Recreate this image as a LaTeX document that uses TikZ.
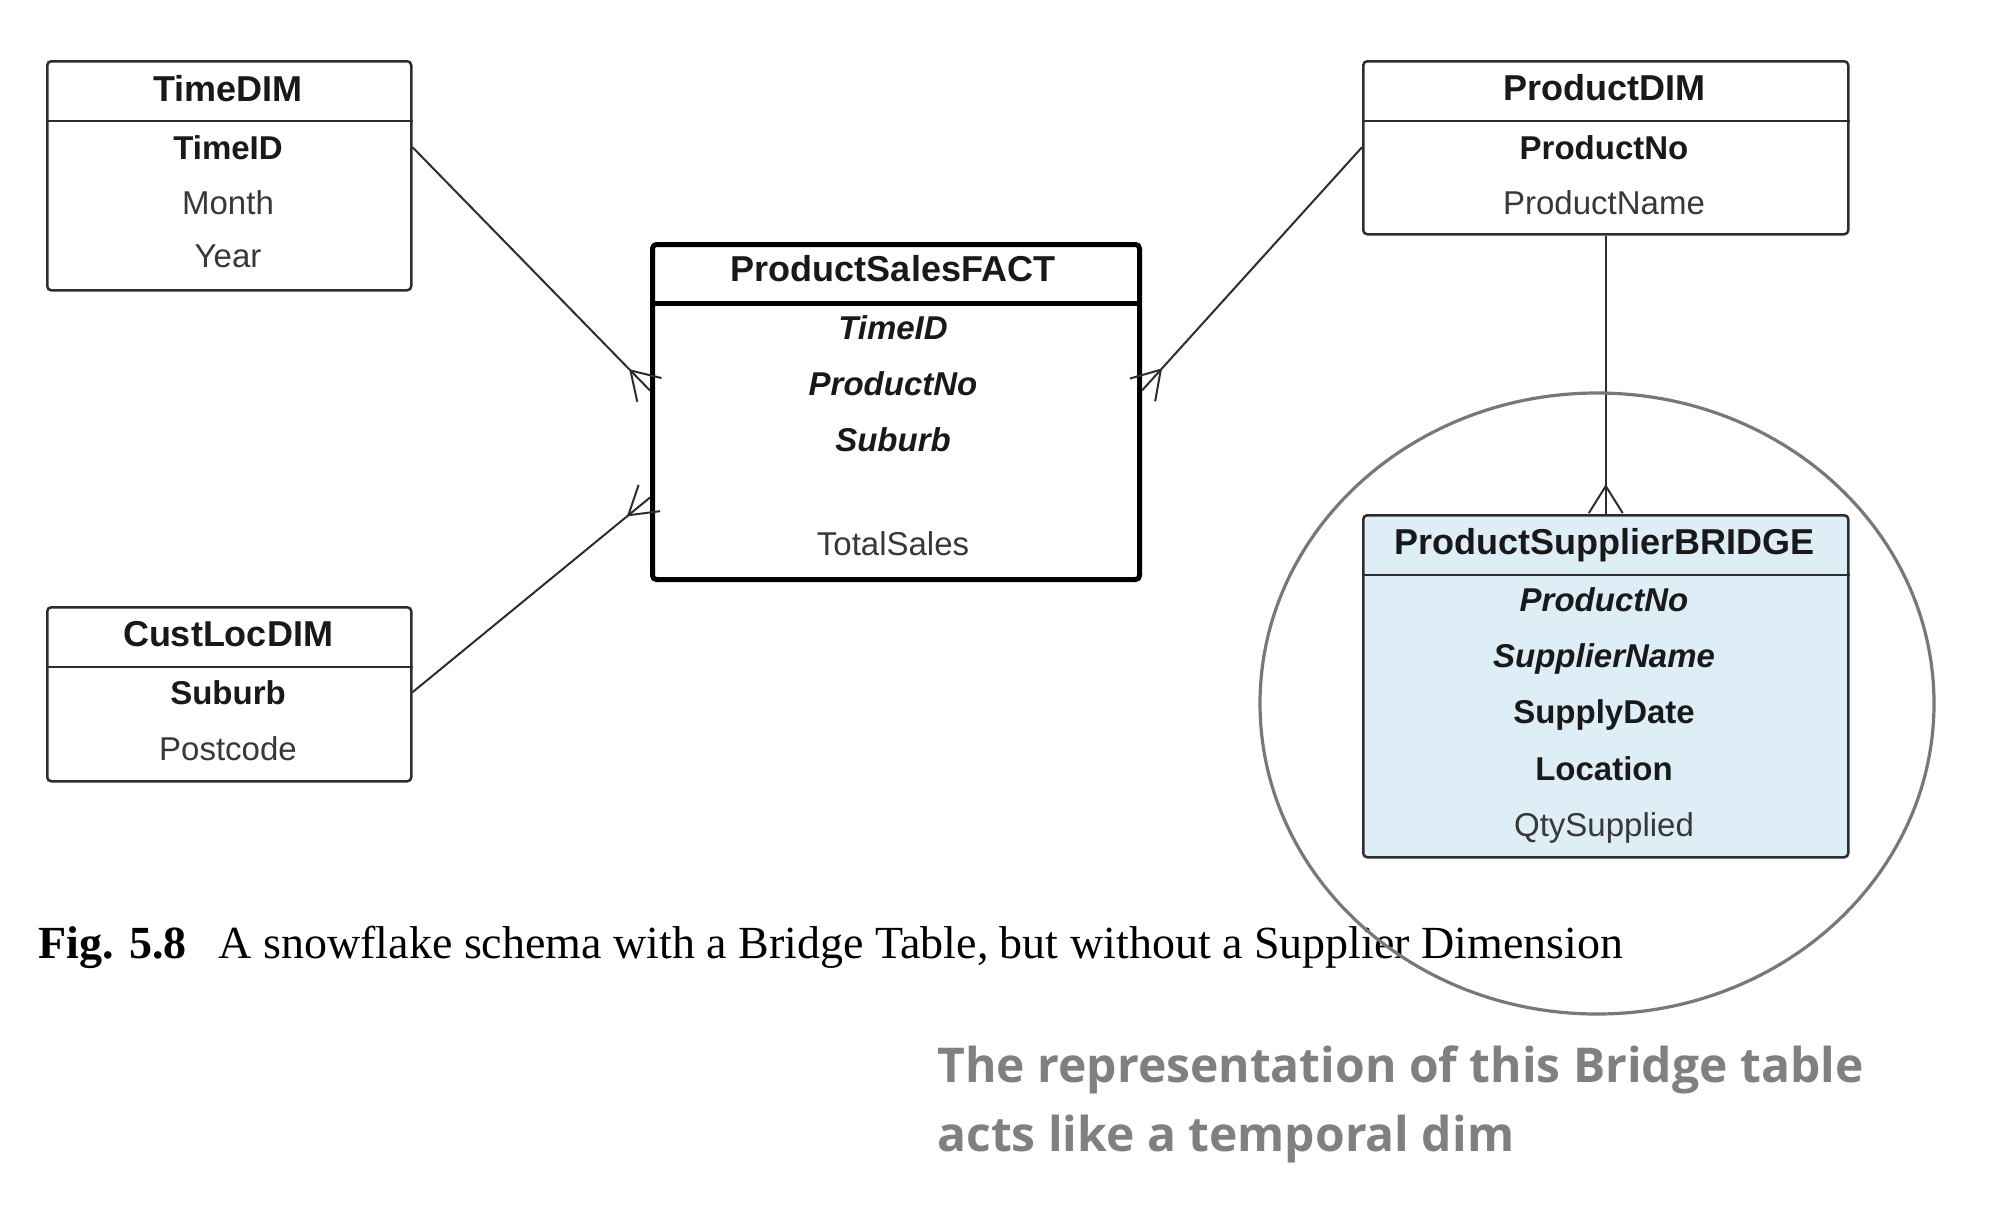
\documentclass[tikz,border=0pt]{standalone}
\usepackage{fontspec}
\setmainfont{Liberation Sans}
\newfontfamily\capfont{Liberation Serif}
\newfontfamily\notefont[Ligatures=NoCommon]{Open Sans}
\usetikzlibrary{calc}
\definecolor{bridgeblue}{RGB}{222,238,247}
\definecolor{linegray}{RGB}{45,45,45}
\definecolor{ringgray}{RGB}{120,120,120}
\definecolor{notegray}{RGB}{128,128,128}
\newcommand{\crowfoot}[2]{%
  \coordinate (cfapex) at ($(#2)!14pt!(#1)$);
  \draw[conn] (cfapex) -- ($(cfapex)!16pt!32:(#2)$);
  \draw[conn] (cfapex) -- ($(cfapex)!16pt!-32:(#2)$);
}
\begin{document}
\begin{tikzpicture}[x=0.5pt,y=-0.5pt,
  tbl/.style={draw=linegray, line width=1.25pt, rounded corners=2pt, anchor=north west, inner sep=0pt, fill=white},
  facttbl/.style={tbl, draw=black, line width=2.5pt},
  sepline/.style={draw=linegray, line width=1.25pt},
  ttl/.style={font=\fontsize{18}{20}\selectfont\bfseries, inner sep=0pt, anchor=base, text=black!90},
  row/.style={font=\fontsize{16.5}{19}\selectfont, inner sep=0pt, anchor=base, text=black!78},
  key/.style={row, font=\fontsize{16.5}{19}\selectfont\bfseries, text=black!90},
  fkey/.style={row, font=\fontsize{16.5}{19}\selectfont\bfseries\itshape, text=black!90},
  conn/.style={draw=linegray, line width=1pt},
  note/.style={anchor=base west, inner sep=0pt, text=notegray, font=\notefont\fontsize{24}{28}\selectfont\bfseries},
]
\useasboundingbox (0,0) rectangle (2000,1211);
\fill[white] (0,0) rectangle (2000,1211);

% TimeDIM
\node[tbl, minimum width=182pt, minimum height=114.5pt] (time) at (46,60) {};
\draw[sepline] (time.west |- 0,121) -- (time.east |- 0,121);
\node[ttl] (timeT) at (228,101) {TimeDIM};
\node[key] (timeid) at (228,159) {TimeID};
\node[row] (month) at (228,214) {Month};
\node[row] (year) at (228,267) {Year};

% ProductDIM
\node[tbl, minimum width=242.5pt, minimum height=86.5pt] (pdim) at (1362,60) {};
\draw[sepline] (pdim.west |- 0,121) -- (pdim.east |- 0,121);
\node[ttl] (pdimT) at (1604,100) {ProductDIM};
\node[key] (pno) at (1604,159) {ProductNo};
\node[row] (pname) at (1604,214) {ProductName};

% CustLocDIM
\node[tbl, minimum width=182pt, minimum height=87pt] (cust) at (46,606) {};
\draw[sepline] (cust.west |- 0,667) -- (cust.east |- 0,667);
\node[ttl] (custT) at (228,646) {CustLocDIM};
\node[key] (suburb) at (228,704) {Suburb};
\node[row] (postcode) at (228,760) {Postcode};

% ProductSalesFACT
\node[facttbl, minimum width=243.5pt, minimum height=167.5pt] (fact) at (650,242) {};
\draw[sepline, draw=black, line width=2.5pt] (fact.west |- 0,303) -- (fact.east |- 0,303);
\node[ttl] (factT) at (893,281) {ProductSalesFACT};
\node[fkey] (ftime) at (893,339) {TimeID};
\node[fkey] (fpno) at (893,395) {ProductNo};
\node[fkey] (fsub) at (893,451) {Suburb};
\node[row] (fsales) at (893,555) {TotalSales};

% ProductSupplierBRIDGE
\node[tbl, fill=bridgeblue, minimum width=242.5pt, minimum height=171pt] (bridge) at (1362,514) {};
\draw[sepline] (bridge.west |- 0,575) -- (bridge.east |- 0,575);
\node[ttl] (bridgeT) at (1604,554) {ProductSupplierBRIDGE};
\node[fkey] (bpno) at (1604,611.5) {ProductNo};
\node[fkey] (bsup) at (1604,667.5) {SupplierName};
\node[key] (bdate) at (1604,723.5) {SupplyDate};
\node[key] (bloc) at (1604,780) {Location};
\node[row] (bqty) at (1604,836) {QtySupplied};

% connectors
\coordinate (s1) at (time.east |- timeid);
\coordinate (e1) at ([yshift=10.75pt]fact.west);
\draw[conn] (s1) -- (e1);
\crowfoot{s1}{e1}

\coordinate (s2) at (cust.east |- suburb);
\coordinate (e2) at ([yshift=-42.75pt]fact.west);
\draw[conn] (s2) -- (e2);
\crowfoot{s2}{e2}

\coordinate (s3) at (pdim.west |- pno);
\coordinate (e3) at ([yshift=10.75pt]fact.east);
\draw[conn] (s3) -- (e3);
\crowfoot{s3}{e3}

\draw[conn] (pdim.south) -- (bridge.north);
\crowfoot{pdim.south}{bridge.north}

% caption
\node[anchor=base west, inner sep=0pt, font=\capfont\fontsize{23}{26}\selectfont] (caption) at (38,958)
  {\textbf{Fig. 5.8}\hspace{0.7em}A snowflake schema with a Bridge Table, but without a Supplier Dimension};

% ring
\draw[ringgray, line width=1.6pt] (1597,703.5) ellipse [x radius=168.5pt, y radius=155.25pt];

% note
\node[note] (note1) at (937,1082) {The representation of this Bridge table};
\node[note] (note2) at (937,1151) {acts like a temporal dim};
\end{tikzpicture}
\end{document}
